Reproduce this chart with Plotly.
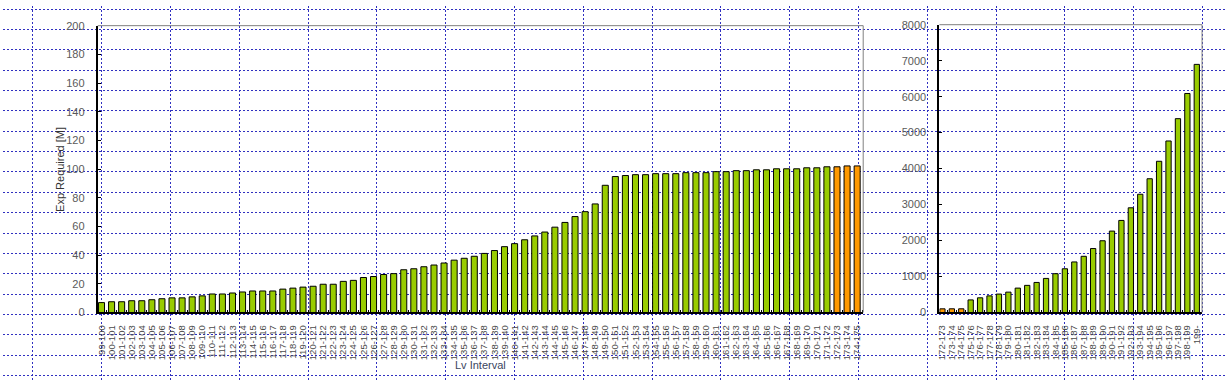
import plotly.graph_objects as go

# ---------------- data ----------------
left_categories = [
    "99-100", "100-101", "101-102", "102-103", "103-104", "104-105", "105-106", "106-107",
    "107-108", "108-109", "109-110", "110-111", "111-112", "112-113", "113-114", "114-115",
    "115-116", "116-117", "117-118", "118-119", "119-120", "120-121", "121-122", "122-123",
    "123-124", "124-125", "125-126", "126-127", "127-128", "128-129", "129-130", "130-131",
    "131-132", "132-133", "133-134", "134-135", "135-136", "136-137", "137-138", "138-139",
    "139-140", "140-141", "141-142", "142-143", "143-144", "144-145", "145-146", "146-147",
    "147-148", "148-149", "149-150", "150-151", "151-152", "152-153", "153-154", "154-155",
    "155-156", "156-157", "157-158", "158-159", "159-160", "160-161", "161-162", "162-163",
    "163-164", "164-165", "165-166", "166-167", "167-168", "168-169", "169-170", "170-171",
    "171-172", "172-173", "173-174", "174-175",
]
left_values = [
    6.9, 7.5, 7.5, 8.2, 8.2, 8.9, 9.6, 10.2, 10.2, 10.9, 11.6, 12.9, 12.9, 13.6, 14.3, 15.0,
    15.0, 15.0, 16.3, 17.0, 17.7, 18.3, 19.7, 19.7, 21.7, 22.4, 24.4, 25.1, 26.5, 27.1, 29.8, 30.5,
    31.9, 33.1, 34.5, 36.5, 37.8, 39.2, 41.2, 43.2, 45.9, 48.0, 50.7, 53.4, 56.1, 59.5,
    62.8, 66.9, 70.3, 75.7, 88.7, 94.8, 95.5, 96.1, 96.1, 96.8, 96.8, 96.8, 97.5, 97.5,
    97.5, 98.2, 98.2, 98.9, 98.9, 99.5, 99.5, 100.2, 100.2, 100.2, 100.9, 100.9, 101.6,
    101.6, 102.2, 102.2,
]
right_categories = [
    "172-173", "173-174", "174-175", "175-176", "176-177", "177-178", "178-179", "179-180",
    "180-181", "181-182", "182-183", "183-184", "184-185", "185-186", "186-187", "187-188",
    "188-189", "189-190", "190-191", "191-192", "192-193", "193-194", "194-195", "195-196",
    "196-197", "197-198", "198-199", "199-",
]
right_values = [
    101.6, 102.2, 102.2, 350, 408, 462, 512, 566, 678, 754, 835, 947, 1078, 1216,
    1405, 1562, 1778, 1994, 2263, 2559, 2910, 3287, 3718, 4203, 4768, 5388, 6088, 6897,
]
highlight_categories = ["172-173", "173-174", "174-175"]

y_title = "Exp Required [M]"
x_title = "Lv Interval"

# ---------------- style ----------------
W, H = 1227, 387
GREEN = "#99cc00"
ORANGE = "#ff9900"
GRID = "#3030c0"
FONT = "Liberation Sans"


def bar_colors(cats):
    return [ORANGE if c in highlight_categories else GREEN for c in cats]


fig = go.Figure()
# empty trace so the full-page grid subplot exists
fig.add_trace(go.Scatter(x=[], y=[], xaxis="x", yaxis="y", showlegend=False, hoverinfo="skip"))
fig.add_trace(go.Bar(
    x=left_categories, y=left_values, xaxis="x2", yaxis="y2", width=0.6,
    marker=dict(color=bar_colors(left_categories), line=dict(color="black", width=1)),
    showlegend=False,
))
fig.add_trace(go.Bar(
    x=right_categories, y=right_values, xaxis="x3", yaxis="y3", width=0.56,
    marker=dict(color=bar_colors(right_categories), line=dict(color="black", width=1)),
    showlegend=False,
))

# plot area geometry (pixels)
L_X0, L_X1 = 95, 862.3
R_X0, R_X1 = 938.7, 1202
Y_BOT = 316.3
L_TOP, R_TOP = 20.3, 19.3

grid_axis = dict(showgrid=True, gridcolor=GRID, griddash="2px,2px", gridwidth=1,
                 showticklabels=False, ticks="", zeroline=False, showline=False, fixedrange=True)

tickfont_y = dict(family=FONT, size=11, color="#5a5a5a")
tickfont_x = dict(family=FONT, size=9.5, color="#4a4a4a")

fig.update_layout(
    width=W, height=H, autosize=False,
    margin=dict(l=0, r=0, t=0, b=0, pad=0),
    paper_bgcolor="white", plot_bgcolor="rgba(0,0,0,0)",
    font=dict(family=FONT, size=11, color="#333333"),
    showlegend=False,
    xaxis=dict(domain=[0, 1], range=[0, W], tick0=30, dtick=68.97, anchor="y", **grid_axis),
    yaxis=dict(domain=[0, 1], range=[H, 0], tick0=3.3, dtick=21.0, anchor="x", **grid_axis),
    xaxis2=dict(
        domain=[L_X0 / W, L_X1 / W], anchor="y2", type="category",
        range=[-0.37, 75.6], tickangle=-90, tickfont=tickfont_x,
        tickmode="linear", tick0=0, dtick=1,
        ticks="inside", ticklen=2, tickcolor="black", tickson="boundaries",
        showline=True, linecolor="black", linewidth=2, showgrid=False, zeroline=False,
        ticklabelstandoff=7,
    ),
    yaxis2=dict(
        domain=[1 - Y_BOT / H, 1 - L_TOP / H], anchor="x2", range=[0, 200], dtick=20,
        ticks="inside", ticklen=3, tickcolor="black", tickfont=tickfont_y,
        showline=True, linecolor="black", linewidth=2, showgrid=False, zeroline=False,
        ticklabelstandoff=9,
    ),
    xaxis3=dict(
        domain=[R_X0 / W, R_X1 / W], anchor="y3", type="category",
        range=[-0.32, 27.56], tickangle=-90, tickfont=tickfont_x,
        tickmode="linear", tick0=0, dtick=1,
        ticks="inside", ticklen=2, tickcolor="black", tickson="boundaries",
        showline=True, linecolor="black", linewidth=2, showgrid=False, zeroline=False,
        ticklabelstandoff=7,
    ),
    yaxis3=dict(
        domain=[1 - Y_BOT / H, 1 - R_TOP / H], anchor="x3", range=[0, 8000], dtick=1000,
        ticks="inside", ticklen=3, tickcolor="black", tickfont=tickfont_y,
        showline=True, linecolor="black", linewidth=2, showgrid=False, zeroline=False,
        ticklabelstandoff=9,
    ),
)

# gray top/right frame of each panel
for xr, yr in (("x2 domain", "y2 domain"), ("x3 domain", "y3 domain")):
    fig.add_shape(type="line", xref=xr, yref=yr, x0=0, x1=1, y0=1, y1=1,
                  line=dict(color="#808080", width=1))
    fig.add_shape(type="line", xref=xr, yref=yr, x0=1, x1=1, y0=0, y1=1,
                  line=dict(color="#808080", width=1))

fig.add_annotation(text=y_title, xref="paper", yref="paper", x=57 / W, y=1 - 168.3 / H,
                   textangle=-90, showarrow=False, xanchor="center", yanchor="middle",
                   font=dict(family=FONT, size=11, color="#333333"))
fig.add_annotation(text=x_title, xref="paper", yref="paper", x=478.7 / W, y=1 - 371 / H,
                   showarrow=False, xanchor="center", yanchor="middle",
                   font=dict(family=FONT, size=11, color="#3a4560"))

fig.write_html("out.html")
